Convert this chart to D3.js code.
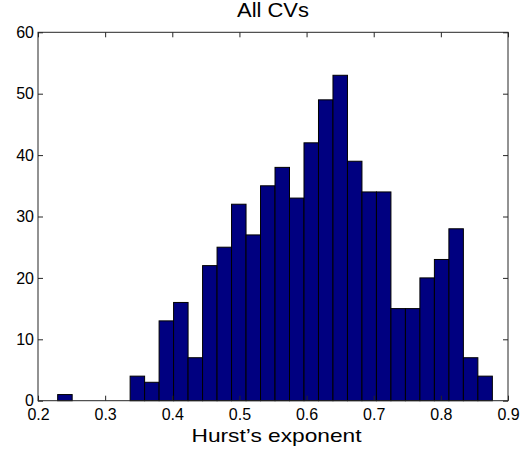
<!DOCTYPE html>
<html>
<head>
<meta charset="utf-8">
<script src="https://cdn.jsdelivr.net/npm/d3@7"></script>
<style>
  body { margin: 0; background: #fff; }
  text { font-family: "Liberation Sans", Arial, sans-serif; fill: #000; }
</style>
</head>
<body>
<svg id="hist" width="526" height="453"></svg>
<script>
// histogram of Hurst's exponent, 30 bins
var binStart = 0.2293, binWidth = 0.02158;
var counts = [1, 0, 0, 0, 0, 4, 3, 13, 16, 7, 22, 25, 32, 27, 35, 38, 33, 42, 49, 53, 39, 34, 34, 15, 15, 20, 23, 28, 7, 4];
var xTicks = [0.2, 0.3, 0.4, 0.5, 0.6, 0.7, 0.8, 0.9];
var yTicks = [0, 10, 20, 30, 40, 50, 60];

var svg = d3.select("#hist"),
    margin = {top: 32.3, right: 18, bottom: 52.3, left: 38},
    width = +svg.attr("width") - margin.left - margin.right,
    height = +svg.attr("height") - margin.top - margin.bottom,
    g = svg.append("g").attr("transform", "translate(" + margin.left + "," + margin.top + ")");

var x = d3.scaleLinear().domain([0.2, 0.9]).range([0, width]);
var y = d3.scaleLinear().domain([0, 60]).range([height, 0]);

var bins = counts.map(function(c, i) {
  return {x0: binStart + i * binWidth, x1: binStart + (i + 1) * binWidth, n: c};
});

g.selectAll(".bar")
  .data(bins)
  .enter().append("rect")
    .attr("class", "bar")
    .attr("x", function(d) { return x(d.x0); })
    .attr("y", function(d) { return y(d.n); })
    .attr("width", function(d) { return x(d.x1) - x(d.x0); })
    .attr("height", function(d) { return height - y(d.n); })
    .attr("fill", "#000080")
    .attr("stroke", "#000")
    .attr("stroke-width", 1);

// box
g.append("rect")
  .attr("width", width)
  .attr("height", height)
  .attr("fill", "none")
  .attr("stroke", "#262626")
  .attr("stroke-width", 1);

var tickLen = 5;

// x axis, ticks inside
g.append("g")
  .attr("transform", "translate(0," + height + ")")
  .call(d3.axisBottom(x).tickValues(xTicks).tickSizeInner(-tickLen).tickSizeOuter(0).tickPadding(8)
    .tickFormat(d3.format(".1f")))
  .call(function(a) { a.select(".domain").remove(); })
  .selectAll("text").attr("font-size", 16);

g.append("g")
  .call(d3.axisTop(x).tickValues(xTicks).tickSizeInner(-tickLen).tickSizeOuter(0).tickFormat(""))
  .call(function(a) { a.select(".domain").remove(); });

// y axis
g.append("g")
  .call(d3.axisLeft(y).tickValues(yTicks).tickSizeInner(-tickLen).tickSizeOuter(0).tickPadding(4))
  .call(function(a) { a.select(".domain").remove(); })
  .selectAll("text").attr("font-size", 16);

g.append("g")
  .attr("transform", "translate(" + width + ",0)")
  .call(d3.axisRight(y).tickValues(yTicks).tickSizeInner(-tickLen).tickSizeOuter(0).tickFormat(""))
  .call(function(a) { a.select(".domain").remove(); });

g.selectAll(".tick line").attr("stroke", "#262626");

// title and label
svg.append("text")
  .attr("x", margin.left + width / 2)
  .attr("y", 16.7)
  .attr("text-anchor", "middle")
  .attr("font-size", 20)
  .attr("textLength", 72)
  .attr("lengthAdjust", "spacingAndGlyphs")
  .text("All CVs");

svg.append("text")
  .attr("x", 276.5)
  .attr("y", 441.7)
  .attr("text-anchor", "middle")
  .attr("font-size", 19)
  .attr("textLength", 170)
  .attr("lengthAdjust", "spacingAndGlyphs")
  .text("Hurst\u2019s exponent");
</script>
</body>
</html>
